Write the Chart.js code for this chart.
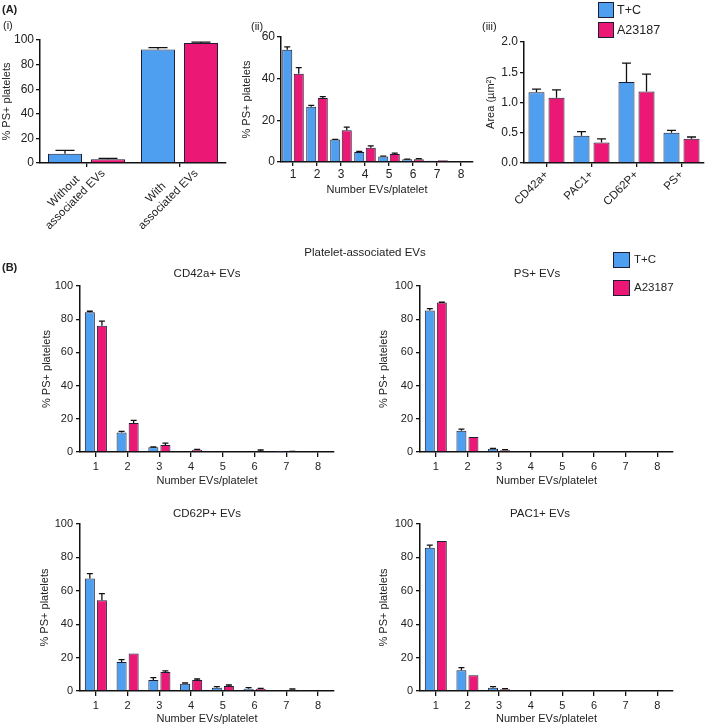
<!DOCTYPE html>
<html>
<head>
<meta charset="utf-8">
<script src="https://cdn.jsdelivr.net/npm/chart.js@4.4.1/dist/chart.umd.min.js"></script>
<style>
body { margin: 0; background: #fff; }
#fig { position: relative; width: 709px; height: 728px; overflow: hidden; font-family: "Liberation Sans", Arial, sans-serif; color: #222; }
#fig canvas { position: absolute; }
.lbl { position: absolute; white-space: nowrap; font-size: 11px; line-height: 1; will-change: transform; }
.c { transform: translate(-50%, -50%); }
.key { position: absolute; border: 1.5px solid #1d1d33; box-sizing: border-box; }
</style>
</head>
<body>
<div id="fig">
  <div class="lbl" style="left:2px;top:4px;font-weight:bold;">(A)</div>
  <div class="lbl" style="left:3px;top:20px;">(i)</div>
  <div class="lbl" style="left:251px;top:21px;">(ii)</div>
  <div class="lbl" style="left:482px;top:21px;">(iii)</div>
  <div class="lbl" style="left:2px;top:262px;font-weight:bold;">(B)</div>
  <div class="lbl c" style="left:365px;top:253px;font-size:11.5px;">Platelet-associated EVs</div>
  <div class="lbl c" style="left:207px;top:274px;font-size:11.5px;">CD42a+ EVs</div>
  <div class="lbl c" style="left:537px;top:274px;font-size:11.5px;">PS+ EVs</div>
  <div class="lbl c" style="left:207px;top:514px;font-size:11.5px;">CD62P+ EVs</div>
  <div class="lbl c" style="left:540px;top:514px;font-size:11.5px;">PAC1+ EVs</div>

  <div class="key" style="left:598px;top:2px;width:16px;height:16px;background:#4f9ff0;"></div>
  <div class="key" style="left:598px;top:22px;width:16px;height:16px;background:#ec1876;"></div>
  <div class="lbl" style="left:617px;top:4px;font-size:12.5px;">T+C</div>
  <div class="lbl" style="left:617px;top:24px;font-size:12.5px;">A23187</div>

  <div class="key" style="left:613px;top:252px;width:17px;height:16px;background:#4f9ff0;"></div>
  <div class="key" style="left:613px;top:280px;width:17px;height:16px;background:#ec1876;"></div>
  <div class="lbl" style="left:634px;top:254px;font-size:11.5px;">T+C</div>
  <div class="lbl" style="left:634px;top:282px;font-size:11.5px;">A23187</div>

  <canvas id="assoc"></canvas>
  <canvas id="count"></canvas>
  <canvas id="area"></canvas>
  <canvas id="cd42a"></canvas>
  <canvas id="ps"></canvas>
  <canvas id="cd62p"></canvas>
  <canvas id="pac1"></canvas>
</div>

<script>
const BLUE = '#4f9ff0';
const PINK = '#ec1876';
const EDGE = '#1d1d33';
const INK = '#111';

// (i) PS+ platelets with / without EVs
// trailing spaces keep the short first line centred over the second once rotated
const assocLabels = [['Without       ', 'associated EVs'], ['With          ', 'associated EVs']];
const assocTC = [7.5, 92.2];
const assocTCErr = [2.7, 1.6];
const assocA = [3.0, 97.5];
const assocAErr = [0.8, 0.8];

// (ii) number of EVs per platelet
const evCounts = ['1', '2', '3', '4', '5', '6', '7', '8'];
const countTC = [53.9, 26.5, 10.8, 4.8, 2.6, 1.3, 0.6, 0.4];
const countTCErr = [1.4, 0.7, 0.1, 0.3, 0.2, 0.1, 0, 0];
const countA = [42.4, 30.7, 15.3, 6.8, 3.9, 1.3, 0.8, 0.4];
const countAErr = [2.9, 0.7, 1.4, 0.9, 0.4, 0.3, 0, 0];

// (iii) EV area
const markerLabels = ['CD42a+', 'PAC1+', 'CD62P+', 'PS+'];
const areaTC = [1.17, 0.45, 1.34, 0.50];
const areaTCErr = [0.05, 0.07, 0.31, 0.04];
const areaA = [1.08, 0.34, 1.18, 0.40];
const areaAErr = [0.13, 0.06, 0.29, 0.03];

// (B) platelet-associated EVs by marker
const cd42aTC = [84.2, 11.8, 2.8, 0.6, 0.4, 0.4, 0.2, 0];
const cd42aTCErr = [0.6, 0.6, 0.2, 0, 0, 0, 0, 0];
const cd42aA = [76.0, 17.4, 4.2, 1.4, 0.4, 0.6, 0.2, 0];
const cd42aAErr = [2.8, 1.6, 1.2, 0.2, 0, 0.6, 0.2, 0];

const psTC = [85.2, 12.8, 2.0, 0.6, 0, 0, 0, 0];
const psTCErr = [1.2, 1.0, 0.2, 0, 0, 0, 0, 0];
const psA = [90.0, 9.0, 1.0, 0, 0, 0, 0, 0];
const psAErr = [0.2, 0, 0.4, 0, 0, 0, 0, 0];

const cd62pTC = [67.3, 17.4, 6.6, 4.4, 2.0, 1.4, 0.6, 0.4];
const cd62pTCErr = [3.0, 1.4, 1.4, 0.4, 0.6, 0.6, 0, 0];
const cd62pA = [54.3, 22.4, 11.4, 6.6, 3.0, 1.4, 0.8, 0.4];
const cd62pAErr = [4.0, 0, 0.6, 0.6, 0.6, 0.2, 0.4, 0];

const pac1TC = [85.8, 12.4, 2.0, 0.4, 0, 0, 0, 0];
const pac1TCErr = [1.6, 1.6, 0.6, 0, 0, 0, 0, 0];
const pac1A = [89.8, 9.4, 1.0, 0, 0, 0, 0, 0];
const pac1AErr = [0, 0, 0.4, 0, 0, 0, 0, 0];

// upper error bars (mean + SEM)
const errorBars = {
    id: 'errorBars',
    afterDatasetsDraw(chart) {
        const ctx = chart.ctx;
        const y = chart.scales.y;
        chart.data.datasets.forEach((ds, di) => {
            const meta = chart.getDatasetMeta(di);
            meta.data.forEach((bar, i) => {
                const e = ds.errors[i];
                if (!e) return;
                const yTop = y.getPixelForValue(ds.data[i] + e);
                const cap = Math.max(3, bar.width * 0.28);
                ctx.save();
                ctx.strokeStyle = INK;
                ctx.lineWidth = 1.3;
                ctx.beginPath();
                ctx.moveTo(bar.x, bar.y);
                ctx.lineTo(bar.x, yTop);
                ctx.moveTo(bar.x - cap, yTop);
                ctx.lineTo(bar.x + cap, yTop);
                ctx.stroke();
                ctx.restore();
            });
        });
    }
};

const FONT = '"Liberation Sans", Arial, sans-serif';

function barChart(id, box, labels, tc, tcErr, a, aErr, o) {
    const T = 10, R = 6;
    const w = box.x1 - box.x0, h = box.y1 - box.y0;
    const cv = document.getElementById(id);
    cv.width = w + box.L + R;
    cv.height = h + T + box.B;
    cv.style.left = (box.x0 - box.L) + 'px';
    cv.style.top = (box.y0 - T) + 'px';

    const bar = (label, data, errors, color) => ({
        label, data, errors,
        backgroundColor: color,
        borderColor: EDGE,
        borderWidth: 1,
        categoryPercentage: o.cp,
        barPercentage: o.bp,
    });

    new Chart(cv, {
        type: 'bar',
        data: {
            labels: labels,
            datasets: [bar('T+C', tc, tcErr, BLUE), bar('A23187', a, aErr, PINK)]
        },
        options: {
            responsive: false,
            animation: false,
            layout: { padding: { left: 0, top: T, right: R, bottom: 0 } },
            plugins: { legend: { display: false }, tooltip: { enabled: false } },
            scales: {
                x: {
                    afterFit: s => { s.height = box.B; },
                    grid: { display: true, offset: false, drawOnChartArea: false, drawTicks: true, tickLength: o.xtl, color: INK, lineWidth: 1.3 },
                    border: { display: true, color: INK, width: 1.5 },
                    ticks: {
                        autoSkip: false,
                        minRotation: o.rot, maxRotation: o.rot,
                        padding: o.xpad,
                        labelOffset: o.lo || 0,
                        color: '#222',
                        font: { family: FONT, size: o.xfs }
                    },
                    title: {
                        display: !!o.xTitle, text: o.xTitle, padding: 0, color: '#222',
                        font: { family: FONT, size: 11 }
                    }
                },
                y: {
                    min: 0, max: o.max,
                    afterFit: s => { s.width = box.L; },
                    grid: { display: true, drawOnChartArea: false, drawTicks: true, tickLength: 4, color: INK, lineWidth: 1.3 },
                    border: { display: true, color: INK, width: 1.5 },
                    ticks: {
                        stepSize: o.step,
                        padding: o.ypad,
                        color: '#222',
                        font: { family: FONT, size: o.yfs },
                        callback: o.fmt || (v => v)
                    },
                    title: {
                        display: true, text: o.yTitle, padding: 0, color: '#222',
                        font: { family: FONT, size: 11 }
                    }
                }
            }
        },
        plugins: [errorBars]
    });
}

const psTitle = '% PS+ platelets';
const countX = 'Number EVs/platelet';
const aStyle = { yfs: 12, xfs: 12, ypad: 2, xpad: 1, xtl: 4 };
const bStyle = { yfs: 11, xfs: 11, ypad: 3, xpad: 3, xtl: 5, cp: 0.76, bp: 0.83, rot: 0, max: 100, step: 20, yTitle: psTitle, xTitle: countX };

barChart('assoc', { x0: 40, x1: 226, y0: 40, y1: 163, L: 40, B: 67 },
    assocLabels, assocTC, assocTCErr, assocA, assocAErr,
    Object.assign({}, aStyle, { xfs: 11.5, xpad: -10, lo: 7, cp: 0.925, bp: 0.79, rot: 45, max: 100, step: 20, yTitle: psTitle }));

barChart('count', { x0: 281, x1: 473, y0: 37, y1: 162, L: 41, B: 35 },
    evCounts, countTC, countTCErr, countA, countAErr,
    Object.assign({}, aStyle, { cp: 0.96, bp: 0.87, rot: 0, max: 60, step: 20, yTitle: psTitle, xTitle: countX }));

barChart('area', { x0: 524, x1: 704, y0: 42, y1: 163, L: 40, B: 60 },
    markerLabels, areaTC, areaTCErr, areaA, areaAErr,
    Object.assign({}, aStyle, { xfs: 11.5, cp: 0.89, bp: 0.8, rot: 45, max: 2, step: 0.5, yTitle: 'Area (\u00b5m\u00b2)', fmt: v => v.toFixed(1) }));

barChart('cd42a', { x0: 80, x1: 334, y0: 286, y1: 452, L: 40, B: 36 },
    evCounts, cd42aTC, cd42aTCErr, cd42aA, cd42aAErr, bStyle);

barChart('ps', { x0: 420, x1: 673, y0: 286, y1: 452, L: 43, B: 36 },
    evCounts, psTC, psTCErr, psA, psAErr, bStyle);

barChart('cd62p', { x0: 80, x1: 334, y0: 524, y1: 691, L: 42, B: 35 },
    evCounts, cd62pTC, cd62pTCErr, cd62pA, cd62pAErr, bStyle);

barChart('pac1', { x0: 420, x1: 673, y0: 524, y1: 691, L: 43, B: 35 },
    evCounts, pac1TC, pac1TCErr, pac1A, pac1AErr, bStyle);
</script>
</body>
</html>
